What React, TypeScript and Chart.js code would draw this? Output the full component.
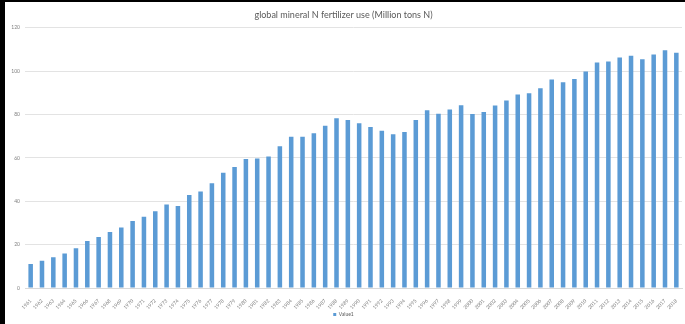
import React, { useEffect, useRef } from "react";
import { Chart, registerables } from "chart.js";

Chart.register(...registerables);

const years: string[] = [
  "1961", "1962", "1963", "1964", "1965", "1966", "1967", "1968", "1969", "1970",
  "1971", "1972", "1973", "1974", "1975", "1976", "1977", "1978", "1979", "1980",
  "1981", "1982", "1983", "1984", "1985", "1986", "1987", "1988", "1989", "1990",
  "1991", "1992", "1993", "1994", "1995", "1996", "1997", "1998", "1999", "2000",
  "2001", "2002", "2003", "2004", "2005", "2006", "2007", "2008", "2009", "2010",
  "2011", "2012", "2013", "2014", "2015", "2016", "2017", "2018",
];

// Million tons N per year
const value1: number[] = [
  11.1, 12.6, 14.2, 15.9, 18.3, 21.7, 23.5, 25.8, 27.9, 30.9,
  32.9, 35.4, 38.5, 37.8, 42.9, 44.5, 48.3, 53.1, 55.8, 59.5,
  59.7, 60.6, 65.4, 69.7, 69.7, 71.4, 74.8, 78.3, 77.5, 76.0,
  74.3, 72.5, 70.9, 72.0, 77.5, 82.0, 80.4, 82.3, 84.3, 80.3,
  81.2, 84.2, 86.5, 89.2, 89.8, 92.1, 96.1, 94.9, 96.4, 99.9,
  104.0, 104.5, 106.3, 107.1, 105.5, 107.7, 109.6, 108.5,
];

const yTicks: number[] = [0, 20, 40, 60, 80, 100, 120];

const titleText = "global mineral N fertilizer use (Million tons N)";
const seriesName = "Value1";

export default function App() {
  const canvasRef = useRef<HTMLCanvasElement | null>(null);

  useEffect(() => {
    const canvas = canvasRef.current;
    if (!canvas) return;
    const font = "Lato, 'Liberation Sans', sans-serif";
    const chart = new Chart(canvas, {
      type: "bar",
      data: {
        labels: years,
        datasets: [
          {
            label: seriesName,
            data: value1,
            backgroundColor: "#5b9bd5",
            borderWidth: 0,
            categoryPercentage: 1,
            barPercentage: 0.4,
          },
        ],
      },
      options: {
        responsive: false,
        animation: false,
        devicePixelRatio: 1,
        layout: { padding: { top: 0, right: 3, bottom: -3, left: 0 } },
        plugins: {
          title: {
            display: true,
            text: titleText,
            color: "#595959",
            font: { family: font, size: 9, weight: "normal" },
            padding: { top: 8, bottom: 7 },
          },
          legend: {
            display: true,
            position: "bottom",
            labels: {
              color: "#595959",
              font: { family: font, size: 5 },
              boxWidth: 3,
              boxHeight: 3,
              padding: 2,
            },
          },
          tooltip: { enabled: false },
        },
        scales: {
          x: {
            grid: { display: false },
            border: { display: true, color: "#d9d9d9", width: 1 },
            ticks: {
              autoSkip: false,
              minRotation: 45,
              maxRotation: 45,
              color: "#7f7f7f",
              font: { family: font, size: 5 },
              padding: 2,
            },
            afterFit: (scale: any) => {
              scale.height = 22;
            },
          },
          y: {
            min: 0,
            max: 120,
            afterBuildTicks: (scale: any) => {
              scale.ticks = yTicks.map((v) => ({ value: v }));
            },
            grid: { color: "#e3e3e3", lineWidth: 1, drawTicks: false },
            border: { display: false },
            ticks: {
              color: "#7f7f7f",
              font: { family: font, size: 5 },
              padding: 5,
            },
            afterFit: (scale: any) => {
              scale.width = 20;
            },
          },
        },
      },
    });
    return () => chart.destroy();
  }, []);

  return (
    <div
      style={{
        position: "fixed",
        left: 0,
        top: 0,
        width: 685,
        height: 324,
        background: "#000",
      }}
    >
      <div
        style={{
          position: "absolute",
          left: 5,
          top: 2,
          width: 680,
          height: 322,
          background: "#fff",
        }}
      >
        <canvas ref={canvasRef} width={680} height={322} style={{ display: "block" }} />
      </div>
    </div>
  );
}
